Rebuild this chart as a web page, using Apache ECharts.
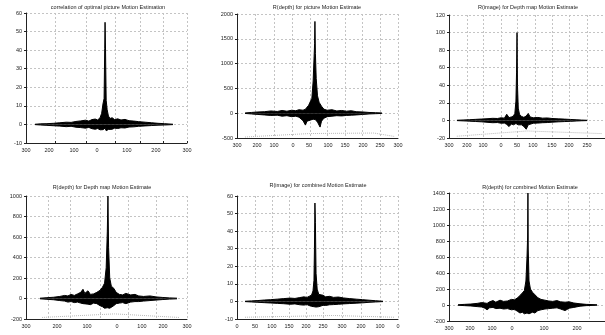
<!DOCTYPE html>
<html>
<head>
<meta charset="utf-8">
<script src="https://cdn.jsdelivr.net/npm/echarts@6/dist/echarts.min.js"></script>
<style>
  html, body { margin: 0; padding: 0; background: #fff; }
  #chart { width: 605px; height: 335px; }
</style>
</head>
<body>
<div id="chart"></div>
<script>
// titles
const titles = [
  'correlation of optimal picture Motion Estimation',
  'R(depth) for picture Motion Estimate',
  'R(image) for Depth map Motion Estimate',
  'R(depth) for Depth map Motion Estimate',
  'R(image) for combined Motion Estimate',
  'R(depth) for combined Motion Estimate'
];

// y ranges [min, max, interval]
const yRanges = [
  [-10, 60, 10],
  [-500, 2000, 500],
  [-20, 120, 20],
  [-200, 1000, 200],
  [-10, 60, 10],
  [-200, 1400, 200]
];

// x tick labels (projected 3d axis) and where they sit along the axis (0..100)
const xLabels = [
  ['300', '200', '100', '0', '100', '200', '300'],
  ['300', '200', '100', '0', '50', '100', '150', '200', '250', '300'],
  ['300', '200', '100', '0', '50', '100', '150', '200', '250'],
  ['300', '200', '100', '0', '100', '200', '300'],
  ['0', '50', '100', '150', '200', '250', '300', '200', '100', '0'],
  ['300', '200', '100', '0', '100', '200']
];
const xLabelPos = [
  [0, 14.3, 29.8, 44.1, 62.7, 80.7, 100],
  [0, 12.4, 23.0, 34.8, 44.7, 56.5, 67.1, 78.3, 88.8, 100],
  [0, 11.5, 21.8, 33.3, 43.6, 53.8, 66, 76.9, 88.5],
  [0, 19.3, 37.9, 56.5, 72, 85.1, 100],
  [0, 11.2, 21.7, 32.3, 42.9, 53.4, 65.2, 77, 88.8, 100],
  [0, 13.5, 27.6, 40.4, 60.9, 82.1]
];
// vertical grid lines
const xGridPos = [
  [18, 37.3, 55.3, 70.8, 85.1, 100],
  [11.2, 23, 34.2, 45.3, 55.9, 67.1, 77.6, 88.8, 100],
  [11.5, 21.8, 33.3, 43.6, 55.1, 66, 76.9, 88.5, 100],
  [13.7, 27.3, 46, 63.4, 80.7, 100],
  [11.2, 21.7, 32.3, 42.9, 53.4, 65.2, 77, 88.8, 100],
  [21.8, 41.7, 62.8, 76.3, 89.7, 100]
];

// mesh envelope, panel 1
const p1x = [5.6, 9, 13, 17, 21, 25, 28, 31, 34, 37, 39, 41, 43, 44.5, 46, 47, 47.8, 48.5, 48.9, 49.1,
  49.4, 49.8, 50.4, 51.2, 52.2, 53.5, 55, 57, 59, 61.5, 64, 67, 70, 74, 78, 82, 86, 91.3];
const p1hi = [0.1, 0.3, 0.4, 0.6, 0.9, 1.2, 1.1, 1.6, 1.9, 2.3, 1.8, 2.6, 2.9, 2.4, 3.6, 6, 11, 14, 41, 55,
  40, 13, 8, 4.5, 3.2, 3.6, 2.6, 3.0, 2.4, 2.7, 2.0, 1.8, 1.5, 1.2, 0.9, 0.6, 0.4, 0.1];
const p1lo = [-0.1, -0.3, -0.5, -0.7, -0.9, -1.2, -1.0, -1.5, -1.7, -2.0, -1.6, -2.3, -2.6, -2.2, -2.9, -3.3, -2.8, -3.2, -2.6, -2.0,
  -2.7, -3.4, -3.0, -2.7, -2.4, -2.6, -2.0, -2.2, -1.8, -1.9, -1.4, -1.3, -1.0, -0.8, -0.6, -0.4, -0.3, -0.1];

// panel 2
const p2x = [5, 9, 13, 17, 21, 25, 28, 31, 34, 36.5, 38.5, 39.5, 41, 42.5, 43.5, 44.5, 45.5, 46.5, 47.3, 47.9,
  48.2, 48.4, 48.7, 49.2, 50, 51, 51.6, 52.5, 54, 56, 59, 62, 65, 68, 71, 74, 78, 82, 86, 90];
const p2hi = [5, 15, 25, 30, 45, 35, 55, 40, 60, 50, 70, 110, 60, 80, 120, 160, 200, 300, 650, 1150,
  1400, 1850, 1200, 700, 350, 220, 180, 140, 80, 60, 70, 45, 55, 40, 50, 30, 25, 15, 10, 5];
const p2lo = [-5, -15, -25, -35, -45, -40, -60, -50, -70, -60, -80, -100, -150, -240, -160, -120, -140, -100, -120, -90,
  -110, -100, -130, -150, -180, -220, -280, -160, -100, -70, -60, -50, -55, -45, -40, -35, -25, -15, -10, -5];

// panel 3
const p3x = [5.1, 9, 13, 17, 21, 25, 28, 31, 33.5, 35.5, 37, 38.5, 40, 41.3, 42.2, 42.9, 43.3, 43.6, 43.9, 44.4,
  45.2, 46.5, 48, 49.5, 50.8, 52, 54, 57, 60, 63, 66, 70, 74, 78, 82, 85, 88.5];
const p3hi = [0.2, 0.5, 0.8, 1.2, 1.6, 2.0, 2.4, 2.2, 3.0, 2.6, 7, 3.2, 4, 5, 8, 22, 55, 100, 40, 14,
  7, 4.5, 3.5, 5, 8, 4, 3.0, 3.4, 2.6, 2.8, 2.2, 1.8, 1.5, 1.1, 0.7, 0.4, 0.2];
const p3lo = [-0.2, -0.5, -0.8, -1.2, -1.6, -2.2, -2.6, -2.4, -3.2, -3.0, -4.5, -7, -4, -5, -4, -3.5, -4, -3, -4.5, -5,
  -6, -5, -7, -10, -5, -4, -3.2, -3.0, -2.6, -2.4, -2.0, -1.6, -1.3, -1.0, -0.6, -0.4, -0.2];

// panel 4
const p4x = [8.7, 13, 17, 21, 24, 26, 28, 30, 32, 34, 35.4, 36.5, 38.5, 40, 42, 44, 46, 47.5, 48.8, 49.8,
  50.5, 50.9, 51.3, 52, 53, 54.5, 56, 58, 60, 62, 63, 65, 67.7, 70, 73, 77, 81, 85, 89, 93.8];
const p4hi = [3, 8, 12, 20, 30, 25, 40, 30, 45, 60, 90, 50, 75, 40, 45, 60, 80, 110, 150, 300,
  650, 1000, 500, 200, 120, 100, 60, 40, 35, 50, 55, 35, 40, 25, 20, 25, 15, 10, 6, 3];
const p4lo = [-3, -8, -12, -20, -25, -35, -30, -40, -35, -45, -50, -40, -55, -60, -45, -50, -70, -80, -95, -100,
  -90, -85, -100, -95, -80, -70, -50, -45, -40, -50, -45, -35, -30, -30, -25, -20, -15, -10, -6, -3];

// panel 5
const p5x = [5, 9, 13, 17, 21, 25, 29, 33, 36, 39, 41.5, 43.5, 45, 46.3, 47.2, 47.8, 48.1, 48.4, 48.7, 49.1,
  49.8, 50.8, 52, 53.5, 55, 57.5, 60, 63, 66, 70, 74, 78, 82, 86, 90.7];
const p5hi = [0.1, 0.3, 0.5, 0.8, 1.0, 1.3, 1.6, 1.9, 1.7, 2.2, 2.6, 2.3, 3.0, 3.6, 6, 12, 30, 56, 45, 16,
  7, 4, 3.2, 3.5, 2.6, 2.9, 2.3, 2.5, 2.0, 1.6, 1.3, 1.0, 0.7, 0.4, 0.1];
const p5lo = [-0.1, -0.3, -0.5, -0.7, -0.9, -1.1, -1.3, -1.6, -1.4, -1.9, -2.1, -1.8, -2.4, -2.8, -2.4, -3.0, -2.6, -2.0, -2.8, -3.2,
  -2.6, -3.0, -2.5, -2.2, -2.3, -1.9, -1.8, -1.6, -1.4, -1.2, -1.0, -0.8, -0.5, -0.3, -0.1];

// panel 6
const p6x = [5.8, 10, 14, 18, 21, 23, 24.4, 26, 28.2, 30, 32.7, 35, 37.5, 40, 42, 44, 45.5, 47, 48.3, 49.3,
  50, 50.4, 50.6, 50.8, 51.3, 52.2, 53.5, 55, 57, 59, 61.5, 64, 66.5, 69.2, 71.5, 74.4, 77, 80, 84, 88, 94.9];
const p6hi = [3, 8, 12, 20, 30, 25, 20, 40, 55, 35, 60, 45, 50, 70, 65, 90, 120, 150, 180, 300,
  600, 850, 1400, 700, 300, 200, 160, 130, 90, 70, 60, 50, 45, 55, 40, 35, 40, 25, 15, 8, 3];
const p6lo = [-3, -8, -12, -20, -25, -40, -60, -35, -30, -45, -40, -50, -45, -60, -55, -80, -100, -90, -110, -95,
  -100, -90, -85, -100, -110, -95, -90, -100, -70, -60, -50, -45, -40, -35, -50, -70, -40, -30, -15, -8, -3];

// faint 3d floor outline under some panels
const floors = [
  [],
  [[5, -480], [45, -410], [85, -400], [98, -470]],
  [[5, -18], [50, -12], [98, -15]],
  [[10, -185], [55, -150], [95, -185]],
  [[5, -9], [60, -8], [98, -9]],
  []
];

const meshX = [p1x, p2x, p3x, p4x, p5x, p6x];
const meshHi = [p1hi, p2hi, p3hi, p4hi, p5hi, p6hi];
const meshLo = [p1lo, p2lo, p3lo, p4lo, p5lo, p6lo];

// plot boxes in px: left, top, width, height
const boxes = [
  [26, 13, 161, 130],
  [237, 14, 161, 124],
  [449, 15, 156, 123],
  [26, 196, 161, 123],
  [237, 196, 161, 123],
  [449, 193, 156, 128]
];
const titleCenters = [[108, 4], [317, 4], [528, 4], [102, 184], [318, 182], [530, 184]];

const chart = echarts.init(document.getElementById('chart'));
const font = 'Liberation Sans, Arial, sans-serif';
const txt = '#222';
const gridLine = { show: true, lineStyle: { color: '#c4c4c4', width: 1, type: [2, 2] } };

const option = {
  animation: false,
  title: [], grid: [], xAxis: [], yAxis: [], series: []
};

for (let i = 0; i < 6; i++) {
  const b = boxes[i];
  option.title.push({
    text: titles[i], left: titleCenters[i][0], top: titleCenters[i][1], textAlign: 'center', padding: 0,
    textStyle: { fontSize: 5.5, fontWeight: 'normal', color: txt, fontFamily: font }
  });
  option.grid.push({ left: b[0], top: b[1], width: b[2], height: b[3] });
  const labs = xLabels[i], pos = xLabelPos[i];
  option.xAxis.push({
    gridIndex: i, type: 'value', min: 0, max: 100,
    axisLine: { show: true, onZero: false, lineStyle: { color: '#222', width: 1 } },
    axisTick: { show: i === 0, inside: true, length: 2, customValues: xGridPos[i], lineStyle: { color: '#222' } },
    axisLabel: {
      customValues: pos, fontSize: 5.5, color: txt, fontFamily: font, margin: 4,
      formatter: (v) => { const k = pos.indexOf(v); return k >= 0 ? labs[k] : ''; }
    },
    splitLine: gridLine
  });
  option.yAxis.push({
    gridIndex: i, type: 'value', min: yRanges[i][0], max: yRanges[i][1], interval: yRanges[i][2],
    axisLine: { show: true, onZero: false, lineStyle: { color: '#222', width: 1 } },
    axisTick: { show: true, length: 2, lineStyle: { color: '#222' } },
    axisLabel: { fontSize: 5.5, color: txt, fontFamily: font, margin: 4, formatter: (v) => String(v) },
    splitLine: gridLine
  });
  if (floors[i].length) {
    option.series.push({
      type: 'line', xAxisIndex: i, yAxisIndex: i, data: floors[i], symbol: 'none', silent: true,
      lineStyle: { color: '#b8b8b8', width: 1, type: 'dotted' }
    });
  }
  [meshHi[i], meshLo[i]].forEach((vals) => {
    option.series.push({
      type: 'line', xAxisIndex: i, yAxisIndex: i, symbol: 'none', silent: true,
      data: meshX[i].map((x, k) => [x, vals[k]]),
      lineStyle: { color: '#000', width: 1 },
      areaStyle: { color: '#000', opacity: 1 }
    });
  });
}

chart.setOption(option);
</script>
</body>
</html>
